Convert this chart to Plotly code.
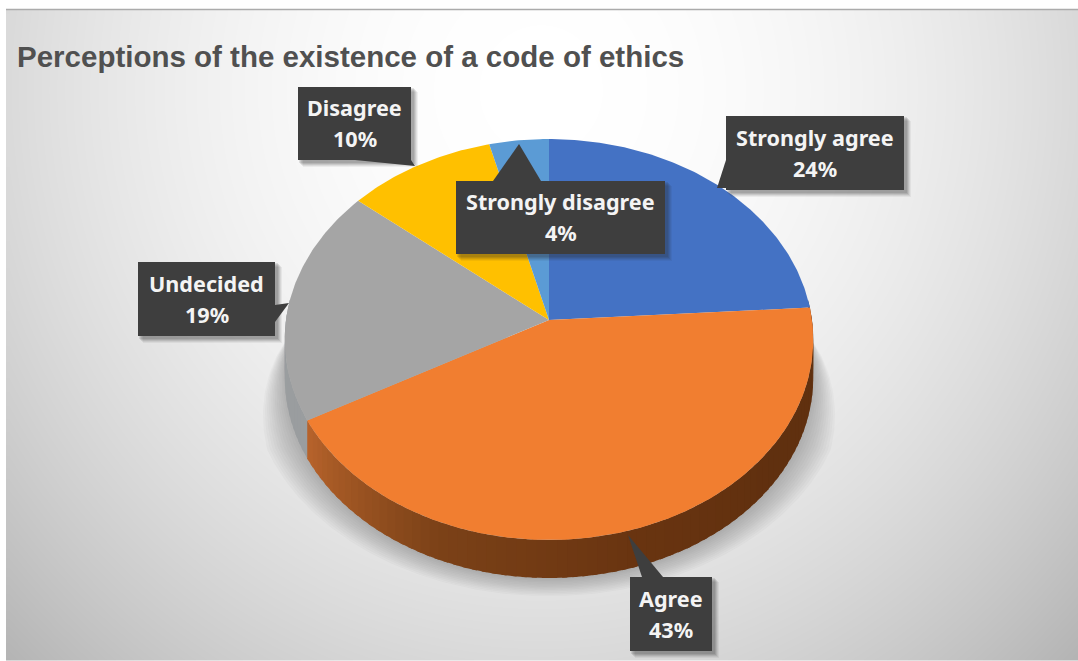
import numpy as np
import plotly.graph_objects as go

# ---- data ----
categories = ["Strongly agree", "Agree", "Undecided", "Disagree", "Strongly disagree"]
values = [24, 43, 19, 10, 4]
slice_colors = ["#4472C4", "#F17E30", "#A5A5A5", "#FFC000", "#5B9BD5"]
title_text = "Perceptions of the existence of a code of ethics"

W, H = 1078, 661
CX, CY, A, B, PERSP, DEPTH = 549.0, 320.0, 263.0, 198.6, 0.0973, 38.0


def project(deg):
    t = np.radians(deg)
    u, v = np.sin(t), np.cos(t)
    d = 1 + PERSP * v
    return CX + A * u / d, CY - B * v / d


def arc(a0, a1):
    n = max(2, int(abs(a1 - a0) * 1.5))
    return project(np.linspace(a0, a1, n))


fig = go.Figure()

# background gradient (page styling, not data)
gx = np.linspace(8.5, W + 2, 216)
gy = np.linspace(12, H + 2, 132)
xx, yy = np.meshgrid(gx, gy)
d = np.sqrt(((xx - 540) / 540) ** 2 + ((yy - 90) / 570) ** 2)
fig.add_trace(go.Heatmap(x=gx, y=gy, z=255 - 38 * d ** 2, zmin=170, zmax=255, zsmooth="best",
                         colorscale=[[0, "rgb(170,170,170)"], [1, "rgb(255,255,255)"]],
                         showscale=False, hoverinfo="skip"))


def poly(x, y, color):
    fig.add_trace(go.Scatter(x=np.r_[x, x[0]], y=np.r_[y, y[0]], mode="lines", fill="toself",
                             fillcolor=color, line=dict(width=0), hoverinfo="skip", showlegend=False))


# soft shadow beneath the disc
th = np.linspace(84, 276, 200)
taper = np.clip(np.minimum(th - 84, 276 - th) / 30, 0, 1) ** 0.7
bx, by = project(th)
for f in np.linspace(1.0, 0.08, 12):
    sx = CX + (bx - CX) * (1 + 0.125 * f * taper)
    sy = CY + (by + DEPTH - CY) * (1 + 0.07 * f * taper)
    poly(sx, sy, "rgba(80,82,88,0.035)")

# rim and top surface, driven by the values
bounds = np.r_[0, np.cumsum(values)] / np.sum(values) * 360
ramp_o = np.array([[96, 48, 15], [96, 48, 15], [106, 53, 17], [124, 66, 24], [184, 100, 44]])
for i, col in enumerate(slice_colors):
    a0, a1 = max(bounds[i], 84), min(bounds[i + 1], 276)
    if a1 <= a0:
        continue
    steps = np.arange(a0, a1 + 2, 2.0)
    steps[-1] = a1
    for s0, s1 in zip(steps[:-1], steps[1:]):
        if s1 <= s0:
            continue
        x, y = arc(s0, min(s1 + 1.0, a1))
        mid = (s0 + s1) / 2
        if categories[i] == "Agree":
            f = (mid - a0) / (a1 - a0) * 4
            lo = int(min(f, 3))
            c = ramp_o[lo] + (ramp_o[lo + 1] - ramp_o[lo]) * (f - lo)
            color = "rgb(%d,%d,%d)" % tuple(c)
        elif categories[i] == "Undecided":
            color = "rgb(154,157,159)"
        else:
            color = "rgb(40,70,125)"
        poly(np.r_[x, x[::-1]], np.r_[y, y[::-1] + DEPTH], color)

for i, col in enumerate(slice_colors):
    x, y = arc(bounds[i], bounds[i + 1])
    fig.add_trace(go.Scatter(x=np.r_[CX, x, CX], y=np.r_[CY, y, CY], mode="lines", fill="toself",
                             fillcolor=col, line=dict(width=0), name=categories[i],
                             hovertemplate="%{fullData.name}<extra></extra>", showlegend=False))

# callouts
BOX = "#3E3E3E"
callouts = [
    dict(name=0, box=(726, 116, 904, 190), wedge=[(726, 160), (717, 188), (726, 188)]),
    dict(name=1, box=(630, 577, 712, 651), wedge=[(642, 577), (628, 535), (663, 577)]),
    dict(name=2, box=(138, 262, 275, 336), wedge=[(275, 305), (289, 303), (275, 322)]),
    dict(name=3, box=(298, 87, 411, 160), wedge=[(355, 160), (415, 166), (411, 160)]),
    dict(name=4, box=(456, 181, 665, 254), wedge=[(493, 181), (519, 144), (541, 181)]),
]
shapes = [dict(type="line", x0=6, x1=W, y0=9.5, y1=9.5, line=dict(color="#ABABAB", width=1.5), layer="above")]
annotations = []
label_font = dict(family="Noto Sans", size=21.6, color="#F4F4F4", weight=700)
for c in callouts:
    x0, y0, x1, y1 = c["box"]
    for off, alpha in [(7, .06), (6, .08), (5, .10), (4, .12), (3, .12)]:
        shapes.append(dict(type="rect", x0=x0 + off - 2, x1=x1 + off, y0=y0 + off - 2, y1=y1 + off,
                           fillcolor=f"rgba(40,40,40,{alpha})", line=dict(width=0), layer="above"))
    w = c["wedge"]
    shapes.append(dict(type="path", path="M%g,%g L%g,%g L%g,%g Z" % (*w[0], *w[1], *w[2]),
                       fillcolor=BOX, line=dict(width=0), layer="above"))
    shapes.append(dict(type="rect", x0=x0, x1=x1, y0=y0, y1=y1, fillcolor=BOX, line=dict(width=0), layer="above"))
    i = c["name"]
    mid_x, mid_y = (x0 + x1) / 2, (y0 + y1) / 2
    annotations.append(dict(x=mid_x, y=mid_y - 16, xref="x", yref="y", showarrow=False,
                            text=categories[i], font=label_font))
    annotations.append(dict(x=mid_x, y=mid_y + 15, xref="x", yref="y", showarrow=False,
                            text=f"{values[i]}%", font=label_font))

annotations.append(dict(x=15, y=56, xref="x", yref="y", xanchor="left", yanchor="middle", showarrow=False,
                        text=title_text,
                        font=dict(family="Liberation Sans", size=29.5, color="#505050", weight="bold")))

fig.update_layout(width=W, height=H, margin=dict(l=0, r=0, t=0, b=0), paper_bgcolor="white",
                  plot_bgcolor="white", showlegend=False, shapes=shapes, annotations=annotations,
                  xaxis=dict(range=[0, W], visible=False, fixedrange=True),
                  yaxis=dict(range=[H, 0], visible=False, fixedrange=True))
fig.write_html("out.html", config=dict(displayModeBar=False), default_width=W, default_height=H,
               post_script="document.body.style.margin='0';document.documentElement.style.overflow='hidden';")
